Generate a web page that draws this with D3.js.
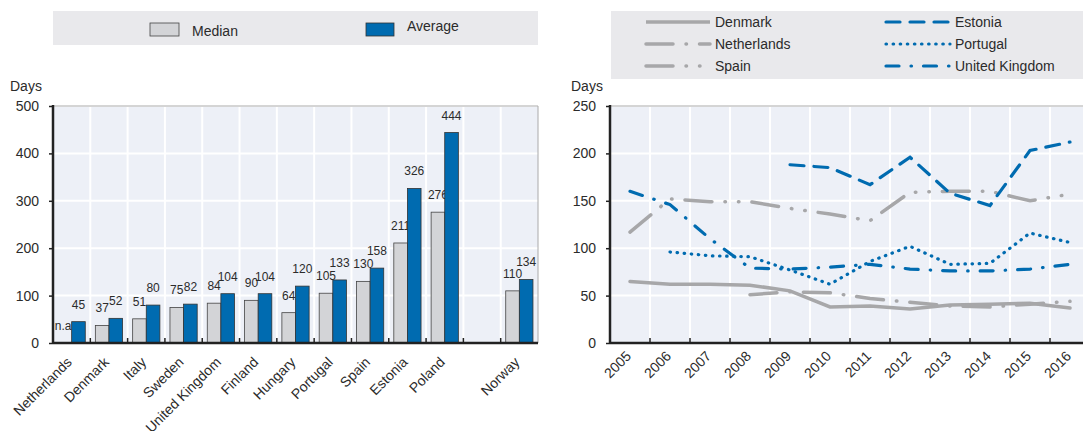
<!DOCTYPE html>
<html lang="en">

<head>
    <meta charset="UTF-8">
    <title>Days - median and average, by country and over time</title>
    <script src="https://d3js.org/d3.v7.min.js"></script>
    <style>
        body,
        html {
            margin: 0;
            padding: 0;
            background: #fff;
            font-family: "Liberation Sans", Arial, sans-serif;
        }

        text {
            fill: #2b2b2b;
        }

        .tick-label {
            font-size: 14px;
        }

        .value-label {
            font-size: 12px;
            text-anchor: middle;
        }
    </style>
</head>

<body>
    <svg width="1083" height="431" id="chart"></svg>

    <script>
        // Left panel: bars by country ("" is the gap before Norway)
        const countries = ["Netherlands", "Denmark", "Italy", "Sweden", "United Kingdom", "Finland",
            "Hungary", "Portugal", "Spain", "Estonia", "Poland", "", "Norway"];
        const medianDays = [null, 37, 51, 75, 84, 90, 64, 105, 130, 211, 276, null, 110];
        const averageDays = [45, 52, 80, 82, 104, 104, 120, 133, 158, 326, 444, null, 134];
        const barTicks = [0, 100, 200, 300, 400, 500];

        // Right panel: lines over time
        const years = [2005, 2006, 2007, 2008, 2009, 2010, 2011, 2012, 2013, 2014, 2015, 2016];
        const denmark = [65, 62, 62, 61, 55, 38, 39, 36, 40, 41, 42, 37];
        const netherlands = [null, null, null, 51, 54, 53, 47, 43, 39, 38, 41, 44];
        const spain = [117, 152, 149, 149, 142, 136, 129, 159, 160, 160, 150, 157];
        const estonia = [null, null, null, null, 188, 185, 167, 196, 158, 145, 203, 212];
        const portugal = [null, 96, 92, 91, 77, 62, 86, 102, 83, 84, 116, 106];
        const unitedKingdom = [160, 146, 110, 79, 78, 80, 83, 78, 76, 76, 78, 83];
        const lineTicks = [0, 50, 100, 150, 200, 250];

        const grey = "#a7a7a9";
        const blue = "#006bb0";
        const plotBg = "#edf0f7";
        const legendBg = "#e9e9ec";

        const series = [
            { name: "Denmark", values: denmark, color: grey, dash: null },
            { name: "Netherlands", values: netherlands, color: grey, dash: "27,13,0.5,13" },
            { name: "Spain", values: spain, color: grey, dash: "27,13,0.5,13,0.5,13" },
            { name: "Estonia", values: estonia, color: blue, dash: "14,10" },
            { name: "Portugal", values: portugal, color: blue, dash: "0.5,6.6" },
            { name: "United Kingdom", values: unitedKingdom, color: blue, dash: "13,12,0.5,12" }
        ];

        const svg = d3.select("#chart");
        const plotTop = 106, plotBottom = 343;

        // ---------- left panel ----------
        const left = { x0: 53, x1: 538 };
        const xL = d3.scaleBand().domain(d3.range(countries.length)).range([left.x0, left.x1]);
        const xSub = d3.scaleBand().domain(["median", "average"])
            .range([0, xL.bandwidth()]).paddingOuter(0.37);
        const yL = d3.scaleLinear().domain([0, 500]).range([plotBottom, plotTop]);

        const gL = svg.append("g");
        gL.append("rect")
            .attr("x", left.x0).attr("y", plotTop)
            .attr("width", left.x1 - left.x0).attr("height", plotBottom - plotTop)
            .attr("fill", plotBg);

        // grid
        gL.selectAll(".hgrid").data(barTicks.slice(1)).enter().append("line")
            .attr("x1", left.x0).attr("x2", left.x1)
            .attr("y1", d => yL(d)).attr("y2", d => yL(d))
            .attr("stroke", "#fff").attr("stroke-width", 2);
        gL.selectAll(".vgrid").data(d3.range(1, countries.length)).enter().append("line")
            .attr("x1", i => xL(i)).attr("x2", i => xL(i))
            .attr("y1", plotTop).attr("y2", plotBottom)
            .attr("stroke", "#fff").attr("stroke-width", 2);

        // value labels (drawn under the bars, like the "n.a." note)
        countries.forEach((c, i) => {
            if (c === "") return;
            const m = medianDays[i], a = averageDays[i];
            gL.append("text").attr("class", "value-label")
                .attr("x", xL(i) + xSub("median") + xSub.bandwidth() / 2)
                .attr("y", (m == null ? yL(0) : yL(m)) - 13)
                .text(m == null ? "n.a." : m);
            gL.append("text").attr("class", "value-label")
                .attr("x", xL(i) + xSub("average") + xSub.bandwidth() / 2)
                .attr("y", yL(a) - 13)
                .text(a);
        });

        gL.selectAll(".median").data(d3.range(countries.length).filter(i => medianDays[i] != null))
            .enter().append("rect")
            .attr("x", i => xL(i) + xSub("median"))
            .attr("y", i => yL(medianDays[i]))
            .attr("width", xSub.bandwidth())
            .attr("height", i => yL(0) - yL(medianDays[i]))
            .attr("fill", "#d3d4d7").attr("stroke", "#444").attr("stroke-width", 0.8);
        gL.selectAll(".average").data(d3.range(countries.length).filter(i => averageDays[i] != null))
            .enter().append("rect")
            .attr("x", i => xL(i) + xSub("average"))
            .attr("y", i => yL(averageDays[i]))
            .attr("width", xSub.bandwidth())
            .attr("height", i => yL(0) - yL(averageDays[i]))
            .attr("fill", blue).attr("stroke", "#333").attr("stroke-width", 0.8);

        // frame and axes
        gL.append("path")
            .attr("d", `M${left.x0},${plotTop}H${left.x1}V${plotBottom}`)
            .attr("fill", "none").attr("stroke", "#aaa").attr("stroke-width", 1);
        gL.selectAll(".btick").data(d3.range(1, countries.length)).enter().append("line")
            .attr("x1", i => xL(i)).attr("x2", i => xL(i))
            .attr("y1", plotBottom).attr("y2", plotBottom - 5)
            .attr("stroke", "#222").attr("stroke-width", 1.5);

        const axisL = gL.append("g")
            .attr("transform", `translate(${left.x0},0)`)
            .call(d3.axisLeft(yL).tickValues(barTicks).tickSize(4).tickPadding(10));
        axisL.select(".domain").remove();
        axisL.selectAll("line").attr("stroke", "#222").attr("stroke-width", 1.5);
        axisL.selectAll("text").attr("class", "tick-label").attr("fill", "#2b2b2b")
            .style("font-family", "'Liberation Sans', Arial, sans-serif");
        gL.append("line").attr("x1", left.x0).attr("x2", left.x0).attr("y1", plotTop - 1).attr("y2", plotBottom + 1)
            .attr("stroke", "#222").attr("stroke-width", 2.5);
        gL.append("line").attr("x1", left.x0).attr("x2", left.x1).attr("y1", plotBottom).attr("y2", plotBottom)
            .attr("stroke", "#222").attr("stroke-width", 2.5);

        gL.selectAll(".xlabel").data(countries).enter().append("text")
            .attr("class", "tick-label")
            .attr("text-anchor", "end")
            .attr("transform", (d, i) => `translate(${xL(i) + xL.bandwidth() / 2 + 1},${plotBottom + 20}) rotate(-45)`)
            .text(d => d);

        gL.append("text").attr("class", "tick-label").attr("x", 10).attr("y", 91).text("Days");

        // legend
        gL.append("rect").attr("x", left.x0).attr("y", 11).attr("width", left.x1 - left.x0).attr("height", 34)
            .attr("fill", legendBg);
        gL.append("rect").attr("x", 150).attr("y", 23).attr("width", 29).attr("height", 13)
            .attr("fill", "#d3d4d7").attr("stroke", "#444").attr("stroke-width", 0.8);
        gL.append("text").attr("class", "tick-label").attr("x", 192).attr("y", 36).text("Median");
        gL.append("rect").attr("x", 366).attr("y", 23).attr("width", 28).attr("height", 13)
            .attr("fill", blue).attr("stroke", "#333").attr("stroke-width", 0.8);
        gL.append("text").attr("class", "tick-label").attr("x", 407).attr("y", 31).text("Average");

        // ---------- right panel ----------
        const right = { x0: 610, x1: 1090 };
        const xR = d3.scaleBand().domain(years).range([right.x0, right.x1]);
        const yR = d3.scaleLinear().domain([0, 250]).range([plotBottom, plotTop]);
        const gR = svg.append("g");

        gR.append("rect")
            .attr("x", right.x0).attr("y", plotTop)
            .attr("width", right.x1 - right.x0).attr("height", plotBottom - plotTop)
            .attr("fill", plotBg);
        gR.selectAll(".hgrid").data(lineTicks.slice(1)).enter().append("line")
            .attr("x1", right.x0).attr("x2", right.x1)
            .attr("y1", d => yR(d)).attr("y2", d => yR(d))
            .attr("stroke", "#fff").attr("stroke-width", 2);
        gR.selectAll(".vgrid").data(years.slice(1)).enter().append("line")
            .attr("x1", d => xR(d)).attr("x2", d => xR(d))
            .attr("y1", plotTop).attr("y2", plotBottom)
            .attr("stroke", "#fff").attr("stroke-width", 2);

        const line = d3.line()
            .defined(d => d.v != null)
            .x(d => xR(d.year) + xR.bandwidth() / 2)
            .y(d => yR(d.v));

        series.forEach(s => {
            gR.append("path")
                .datum(years.map((year, i) => ({ year, v: s.values[i] })))
                .attr("d", line)
                .attr("fill", "none")
                .attr("stroke", s.color)
                .attr("stroke-width", s.color === blue ? 3.2 : 3.5)
                .attr("stroke-linecap", "round")
                .attr("stroke-dasharray", s.dash);
        });

        gR.append("line").attr("x1", right.x0).attr("x2", right.x1).attr("y1", plotTop).attr("y2", plotTop)
            .attr("stroke", "#aaa").attr("stroke-width", 1);
        gR.selectAll(".btick").data(years.slice(1)).enter().append("line")
            .attr("x1", d => xR(d)).attr("x2", d => xR(d))
            .attr("y1", plotBottom).attr("y2", plotBottom - 5)
            .attr("stroke", "#222").attr("stroke-width", 1.5);

        const axisR = gR.append("g")
            .attr("transform", `translate(${right.x0},0)`)
            .call(d3.axisLeft(yR).tickValues(lineTicks).tickSize(4).tickPadding(10));
        axisR.select(".domain").remove();
        axisR.selectAll("line").attr("stroke", "#222").attr("stroke-width", 1.5);
        axisR.selectAll("text").attr("class", "tick-label").attr("fill", "#2b2b2b")
            .style("font-family", "'Liberation Sans', Arial, sans-serif");
        gR.append("line").attr("x1", right.x0).attr("x2", right.x0).attr("y1", plotTop - 1).attr("y2", plotBottom + 1)
            .attr("stroke", "#222").attr("stroke-width", 2.5);
        gR.append("line").attr("x1", right.x0).attr("x2", right.x1).attr("y1", plotBottom).attr("y2", plotBottom)
            .attr("stroke", "#222").attr("stroke-width", 2.5);

        gR.selectAll(".xlabel").data(years).enter().append("text")
            .attr("class", "tick-label")
            .attr("text-anchor", "end")
            .attr("transform", d => `translate(${xR(d) + xR.bandwidth() / 2 + 2},${plotBottom + 14}) rotate(-45)`)
            .text(d => d);

        gR.append("text").attr("class", "tick-label").attr("x", 571).attr("y", 91).text("Days");

        // legend (two columns, three rows)
        gR.append("rect").attr("x", 611).attr("y", 11).attr("width", 472).attr("height", 68)
            .attr("fill", legendBg);
        const legendCols = [646, 886];
        const legendRows = [22, 44, 66];
        const legendOrder = ["Denmark", "Estonia", "Netherlands", "Portugal", "Spain", "United Kingdom"];
        legendOrder.forEach((name, k) => {
            const s = series.find(d => d.name === name);
            const lx = legendCols[k % 2], ly = legendRows[Math.floor(k / 2)];
            gR.append("line")
                .attr("x1", lx).attr("x2", lx + 64).attr("y1", ly).attr("y2", ly)
                .attr("stroke", s.color)
                .attr("stroke-width", s.color === blue ? 3.2 : 3.5)
                .attr("stroke-linecap", s.dash ? "round" : "butt")
                .attr("stroke-dasharray", s.dash);
            gR.append("text").attr("class", "tick-label")
                .attr("x", lx + 69).attr("y", ly + 5).text(name);
        });
    </script>
</body>

</html>
